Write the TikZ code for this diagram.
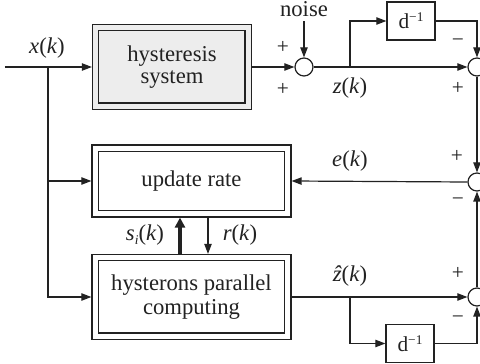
\documentclass[tikz,border=0pt]{standalone}
\usepackage{fontspec}
\setmainfont{Liberation Serif}
\usetikzlibrary{arrows.meta,calc}
\definecolor{boxgray}{HTML}{EDEDED}
\definecolor{ink}{HTML}{222222}
\newcommand{\frameinset}{5.25pt}
% inner frame of a double-lined block
\newcommand{\innerframe}[2][none]{%
  \draw[ink,line width=0.9pt,fill=#1]
    ([shift={(\frameinset,\frameinset)}]#2.south west) rectangle
    ([shift={(-\frameinset,-\frameinset)}]#2.north east);}
\newcommand{\delayop}{d\raisebox{5.5pt}{\fontsize{10}{10}\selectfont −1}}
\begin{document}
\begin{tikzpicture}[x=0.75pt,y=-0.75pt,
  every node/.style={font=\fontsize{17}{17}\selectfont, text=ink},
  dbox/.style={draw=ink, line width=0.9pt, inner sep=0pt, align=center},
  delaybox/.style={draw=ink, line width=0.9pt, inner sep=0pt,
    minimum width=36pt, minimum height=28.5pt, font=\fontsize{16}{16}\selectfont},
  sumnode/.style={circle, draw=ink, line width=0.9pt, minimum size=13.5pt, inner sep=0pt},
  sign/.style={font=\fontsize{16}{16}\selectfont, inner sep=0pt},
  wire/.style={draw=ink, line width=0.9pt},
  arr/.style={wire, -{Triangle[length=7.5pt,width=5.5pt]}},
  bigarr/.style={draw=ink, line width=3pt, -{Triangle[length=7.5pt,width=7.5pt]}}]
\clip (0,0) rectangle (480,364);
\fill[white] (0,0) rectangle (480,364);

% blocks
\node[dbox, fill=boxgray, minimum width=119.25pt, minimum height=63.75pt] (hyst) at (172,67) {};
\innerframe[boxgray]{hyst}
\node[align=center] at (hyst) {hysteresis\\system};

\node[dbox, minimum width=149.25pt, minimum height=54pt] (upd) at (191.5,181) {};
\innerframe{upd}
\node at (upd) {update rate};

\node[dbox, minimum width=149.25pt, minimum height=63.75pt] (hp) at (191.5,297) {};
\innerframe{hp}
\node[align=center, font=\fontsize{17}{18}\selectfont] at (hp) {hysterons parallel\\computing};

\node[delaybox] (d1) at (411,21) {\delayop};
\node[delaybox] (d2) at (410,343.5) {\delayop};

% summing junctions
\node[sumnode] (s1) at (304,67) {};
\node[sumnode] (s2) at (477,67) {};
\node[sumnode] (s3) at (477,182) {};
\node[sumnode] (s4) at (477,297) {};

% helper points
\coordinate (in) at (5,67);
\coordinate (bx) at (48,67);
\coordinate (bz) at (350,67);
\coordinate (bh) at (350,297);
\coordinate (sx) at (180,240);
\coordinate (rx) at (208,240);
\node (noise) at (304,9) {noise};

% signal paths
\draw[arr] (in) -- (hyst.west);
\draw[arr] (bx) |- (upd.west);
\draw[arr] (bx) |- (hp.west);
\draw[arr] (hyst.east) -- (s1.west);
\draw[arr] (noise.south) -- (s1.north);
\draw[arr] (s1.east) -- (s2.west);
\draw[arr] (bz) |- (d1.west);
\draw[arr] (d1.east) -| (s2.north);
\draw[arr] (s2.south) -- (s3.north);
\draw[arr] (s3.west) -- (upd.east);
\draw[arr] (hp.east) -- (s4.west);
\draw[arr] (bh) |- (d2.west);
\draw[arr] (d2.east) -| (s4.south);
\draw[arr] (s4.north) -- (s3.south);
\draw[bigarr] (sx |- hp.north) -- (sx |- upd.south);
\draw[arr] (rx |- upd.south) -- (rx |- hp.north);

% labels
\node at (47,48) {\textit{x}(\textit{k})};
\node at (350,88) {\textit{z}(\textit{k})};
\node at (350,161) {\textit{e}(\textit{k})};
\node at (350,276) {\textit{ẑ}(\textit{k})};
\node at (145,235) {\textit{s}\raisebox{-3pt}{\fontsize{10}{10}\selectfont\textit{i}}(\textit{k})};
\node at (240,235) {\textit{r}(\textit{k})};

\node[sign] at (283,47) {+};
\node[sign] at (283,89) {+};
\node[sign] at (458,43) {−};
\node[sign] at (458,88) {+};
\node[sign] at (457,156) {+};
\node[sign] at (458,202) {−};
\node[sign] at (458,273) {+};
\node[sign] at (458,320) {−};
\end{tikzpicture}
\end{document}
